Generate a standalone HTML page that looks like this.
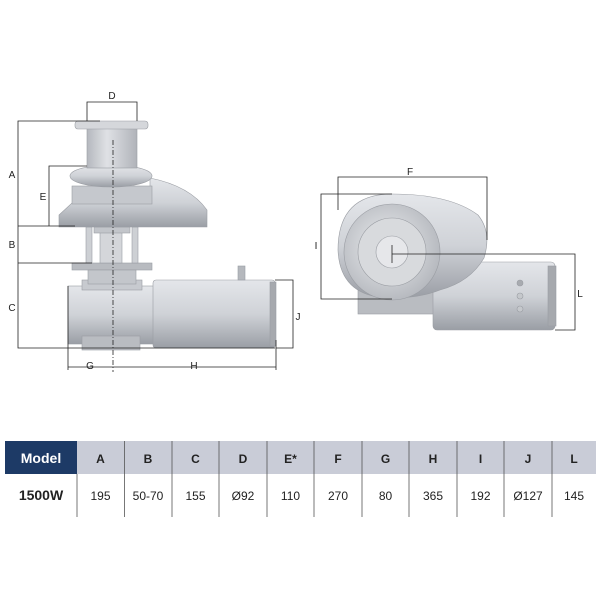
<!DOCTYPE html>
<html><head><meta charset="utf-8"><style>
html,body{margin:0;padding:0;background:#fff;width:600px;height:600px;overflow:hidden}
svg{display:block}
text{font-family:"Liberation Sans",Arial,sans-serif}
.n{font-family:"Liberation Sans Narrow","Liberation Sans",Arial,sans-serif}
</style></head><body>
<svg width="600" height="600" viewBox="0 0 600 600" xmlns="http://www.w3.org/2000/svg">
<defs>
<linearGradient id="gv" x1="0" y1="0" x2="0" y2="1"><stop offset="0" stop-color="#e4e6ea"/><stop offset="0.5" stop-color="#cfd2d7"/><stop offset="1" stop-color="#9a9ea5"/></linearGradient>
<linearGradient id="gh" x1="0" y1="0" x2="1" y2="0"><stop offset="0" stop-color="#b5b8be"/><stop offset="0.4" stop-color="#dfe1e5"/><stop offset="1" stop-color="#b0b3b9"/></linearGradient>
<radialGradient id="gr" cx="0.45" cy="0.45" r="0.6"><stop offset="0" stop-color="#eceef0"/><stop offset="1" stop-color="#b3b6bc"/></radialGradient>
</defs>
<g stroke="#9a9da3" stroke-width="0.6">
<rect x="68" y="286" width="86" height="58" fill="url(#gv)"/>
<rect x="82" y="280" width="60" height="10" fill="#c7cacf"/>
<rect x="82" y="336" width="58" height="14" fill="#b9bcc1"/>
<rect x="153" y="280" width="122" height="68" rx="3" fill="url(#gv)"/>
<rect x="270" y="282" width="6" height="64" fill="#a6a9ae"/>
<rect x="238" y="266" width="7" height="14" fill="#b5b8bd"/>
<rect x="72" y="263" width="80" height="7" fill="#b8bbc0"/>
<rect x="88" y="270" width="48" height="14" fill="#c3c6cb"/>
<rect x="86" y="227" width="6" height="36" fill="#cdd0d4"/>
<rect x="132" y="227" width="6" height="36" fill="#cdd0d4"/>
<rect x="100" y="227" width="22" height="36" fill="#d4d6da"/>
<rect x="94" y="227" width="36" height="6" fill="#c2c5ca"/>
<path d="M59 215 L72 203 L150 200 L150 178 Q190 186 207 210 L207 227 L59 227 Z" fill="url(#gv)"/>
<rect x="72" y="186" width="80" height="18" fill="#c5c8cd"/>
<ellipse cx="111" cy="176" rx="41" ry="11" fill="url(#gv)"/>
<rect x="87" y="128" width="50" height="40" fill="url(#gh)"/>
<rect x="75" y="121" width="73" height="8" rx="3" fill="#d5d7db"/>
</g>
<line x1="113" y1="140" x2="113" y2="372" stroke="#222" stroke-width="0.8" stroke-dasharray="5,2,1,2"/>
<g stroke="#222" stroke-width="0.8" fill="none">
<polyline points="87,121 87,102 137,102 137,121"/>
<polyline points="100,121 18,121 18,348 275,348"/>
<polyline points="87,166 49,166 49,226"/>
<line x1="18" y1="226" x2="75" y2="226"/>
<line x1="18" y1="263" x2="92" y2="263"/>
<polyline points="275,280 293,280 293,348 276,348"/>
<polyline points="68,286 68,370"/>
<line x1="68" y1="367" x2="276" y2="367"/>
<line x1="276" y1="340" x2="276" y2="370"/>
</g>
<g font-size="10" fill="#222" text-anchor="middle">
<text x="112" y="99">D</text>
<text x="12" y="178">A</text>
<text x="43" y="200">E</text>
<text x="12" y="248">B</text>
<text x="12" y="311">C</text>
<text x="298" y="320">J</text>
<text x="90" y="369">G</text>
<text x="194" y="369">H</text>
</g>
<g stroke="#9a9da3" stroke-width="0.6">
<rect x="358" y="288" width="78" height="26" fill="#b9bcc1"/>
<rect x="433" y="262" width="122" height="68" rx="4" fill="url(#gv)"/>
<rect x="548" y="266" width="8" height="60" fill="#a6a9ae"/>
<circle cx="520" cy="283" r="3" fill="#a8abb0"/><circle cx="520" cy="296" r="3" fill="#c5c8cc"/><circle cx="520" cy="309" r="3" fill="#c5c8cc"/>
<path d="M392 194 Q450 194 478 215 Q492 232 484 258 Q470 282 440 290 Q420 298 392 298 Q340 298 338 250 Q338 194 392 194 Z" fill="url(#gv)"/>
<circle cx="392" cy="252" r="48" fill="url(#gr)"/>
<circle cx="392" cy="252" r="34" fill="#d8dadd"/>
<circle cx="392" cy="252" r="16" fill="#e6e7ea"/>
</g>
<g stroke="#222" stroke-width="0.8" fill="none">
<polyline points="338,210 338,177 487,177 487,240"/>
<polyline points="392,194 321,194 321,299 392,299"/>
<polyline points="392,254 575,254 575,330 555,330"/>
<line x1="392" y1="245" x2="392" y2="263"/>
</g>
<g font-size="10" fill="#222" text-anchor="middle">
<text x="410" y="175">F</text>
<text x="316" y="249">I</text>
<text x="580" y="297">L</text>
</g>
<rect x="5" y="441" width="72" height="33" fill="#1d3a66"/>
<rect x="77" y="441" width="519" height="33" fill="#c9ccd7"/>
<g stroke="#555" stroke-width="0.8">
<line x1="124.5" y1="441" x2="124.5" y2="517"/><line x1="172" y1="441" x2="172" y2="517"/>
<line x1="219" y1="441" x2="219" y2="517"/><line x1="267" y1="441" x2="267" y2="517"/>
<line x1="314" y1="441" x2="314" y2="517"/><line x1="362" y1="441" x2="362" y2="517"/>
<line x1="409" y1="441" x2="409" y2="517"/><line x1="457" y1="441" x2="457" y2="517"/>
<line x1="504" y1="441" x2="504" y2="517"/><line x1="552" y1="441" x2="552" y2="517"/>
<line x1="77" y1="474" x2="77" y2="517"/>
</g>
<text class="n" x="41" y="463" font-size="14" font-weight="bold" fill="#fff" text-anchor="middle">Model</text>
<g class="n" font-size="12" font-weight="bold" fill="#222" text-anchor="middle">
<text x="100.5" y="463">A</text><text x="148" y="463">B</text><text x="195.5" y="463">C</text>
<text x="243" y="463">D</text><text x="290.5" y="463">E*</text><text x="338" y="463">F</text>
<text x="385.5" y="463">G</text><text x="433" y="463">H</text><text x="480.5" y="463">I</text>
<text x="528" y="463">J</text><text x="574" y="463">L</text>
</g>
<text class="n" x="41" y="500" font-size="14" font-weight="bold" fill="#222" text-anchor="middle">1500W</text>
<g class="n" font-size="12" fill="#222" text-anchor="middle">
<text x="100.5" y="500">195</text><text x="148" y="500">50-70</text><text x="195.5" y="500">155</text>
<text x="243" y="500">Ø92</text><text x="290.5" y="500">110</text><text x="338" y="500">270</text>
<text x="385.5" y="500">80</text><text x="433" y="500">365</text><text x="480.5" y="500">192</text>
<text x="528" y="500">Ø127</text><text x="574" y="500">145</text>
</g>
</svg>
</body></html>
